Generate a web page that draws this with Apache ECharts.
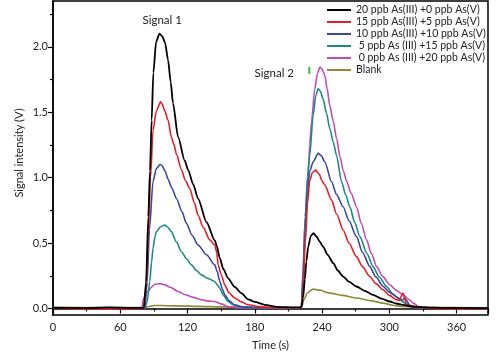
<!DOCTYPE html>
<html><head><meta charset="utf-8">
<script src="https://cdn.jsdelivr.net/npm/echarts@6/dist/echarts.min.js"></script>
<style>html,body{margin:0;padding:0;background:#fff}#c{width:500px;height:363px}</style>
</head><body><div id="c"></div><script>
const names = ['20 ppb As(III) +0 ppb As(V)','15 ppb As(III) +5 ppb As(V)','10 ppb As(III) +10 ppb As(V)',' 5 ppb As (III) +15 ppb As(V)',' 0 ppb As (III) +20 ppb As(V)','Blank'];
const colors = ['#000000','#e3202a','#3a48a0','#1d8a85','#c34cb6','#8c8a3c'];
const yTicks = [0,0.5,1,1.5,2];
const yMinor = [0.25,0.75,1.25,1.75,2.25];

const black = [[0,0.005],[30,0.003],[50,0.008],[70,0.004],[81,0.005],[83,0.2],[85,0.7],[86.5,1.05],[88,1.44],[89.5,1.80],[92,2.04],[95,2.10],[97.5,2.08],[100,2.03],[102.6,1.90],[105,1.73],[107,1.57],[111.6,1.31],[117.5,1.13],[120.5,1.06],[125,0.95],[129.4,0.84],[136.9,0.66],[144.3,0.52],[146,0.48],[148.8,0.384],[152,0.3],[156.2,0.23],[162,0.165],[168,0.117],[174,0.07],[180,0.05],[189,0.028],[200,0.012],[215,0.008],[221.5,0.008],[223,0.08],[224.6,0.22],[226,0.36],[227.6,0.47],[230,0.555],[232.3,0.575],[235,0.55],[238,0.51],[241,0.47],[245,0.41],[250,0.346],[254,0.29],[258.8,0.244],[264,0.205],[270.7,0.168],[278,0.135],[285.5,0.104],[293,0.075],[300.5,0.053],[306,0.038],[312,0.028],[320,0.015],[330,0.008],[350,0.004],[370,0.003],[388,0.003]];
const red = [[0,0.003],[25,-0.004],[50,-0.005],[70,-0.004],[81,0.0],[83,0.15],[85,0.55],[87,1.0],[89.2,1.36],[92.2,1.51],[96,1.58],[97.5,1.56],[99.7,1.51],[102.6,1.44],[105.6,1.31],[108,1.25],[110.1,1.18],[114.6,1.06],[118,0.98],[122,0.917],[126,0.81],[129.4,0.714],[134,0.62],[139.8,0.524],[144.3,0.485],[146,0.43],[147.3,0.333],[150,0.26],[153.2,0.18],[157,0.12],[162,0.08],[168,0.05],[174,0.028],[185,0.012],[200,0.005],[221.5,0.005],[223,0.15],[225,0.5],[227,0.8],[229,0.98],[231.5,1.04],[234.4,1.057],[236,1.04],[238,1.02],[239.5,0.98],[242.5,0.943],[248.4,0.83],[253,0.72],[258.8,0.60],[264,0.5],[270.7,0.396],[276,0.32],[282.6,0.244],[288,0.19],[294.5,0.143],[300,0.1],[306.4,0.066],[309,0.06],[311,0.1],[312.3,0.117],[313.5,0.08],[315.4,0.028],[324,0.01],[340,0.0],[355,-0.004],[370,-0.003],[388,-0.002]];
const blue = [[0,0.006],[30,0.004],[60,0.002],[82,0.004],[84,0.2],[86,0.6],[89.2,0.97],[92.2,1.07],[95.5,1.10],[97,1.095],[100,1.05],[102.6,0.99],[106,0.92],[110.1,0.84],[115,0.74],[119,0.65],[124,0.56],[129.4,0.485],[136.9,0.41],[144.3,0.333],[146.5,0.28],[148.8,0.206],[151,0.15],[153.2,0.104],[157,0.06],[162,0.028],[170,0.01],[190,0.005],[221.5,0.005],[223,0.2],[225,0.6],[227,0.9],[229,1.05],[232,1.12],[236.5,1.185],[239,1.17],[242.5,1.12],[248.4,0.968],[253,0.87],[258.8,0.777],[264,0.67],[270.7,0.549],[276,0.43],[282.6,0.32],[288,0.24],[294.5,0.168],[300,0.125],[306.4,0.09],[310,0.07],[312,0.065],[313.8,0.08],[315.5,0.06],[318,0.025],[325,0.01],[340,0.003],[388,0.002]];
const teal = [[0,0.004],[40,0.003],[82,0.004],[84,0.05],[86.3,0.206],[88,0.36],[89.2,0.46],[91,0.55],[92.2,0.587],[96,0.625],[99.7,0.638],[102,0.625],[105.6,0.587],[110,0.51],[114.6,0.434],[119,0.38],[123.5,0.333],[128,0.29],[132.4,0.257],[138,0.23],[144.3,0.206],[146.5,0.18],[148.8,0.155],[152,0.1],[156.2,0.053],[160,0.03],[165,0.015],[180,0.005],[221.5,0.005],[223,0.25],[225,0.7],[227,1.0],[229,1.17],[232,1.476],[234.5,1.63],[236.5,1.68],[238.5,1.66],[241,1.60],[244,1.49],[246.9,1.375],[250,1.27],[252.9,1.17],[257.4,0.968],[261,0.87],[264.8,0.777],[269,0.66],[273.7,0.549],[280,0.42],[285.5,0.32],[291,0.24],[297.5,0.168],[303,0.11],[309.4,0.066],[312,0.05],[315,0.035],[320,0.015],[330,0.005],[388,0.002]];
const magenta = [[0,0.005],[40,0.002],[79,0.004],[81,0.08],[83,0.12],[84.8,0.13],[88,0.165],[91,0.185],[95.2,0.19],[100,0.18],[105,0.16],[111.6,0.13],[118,0.105],[125,0.085],[132.4,0.066],[138,0.058],[144.3,0.053],[150,0.035],[156.2,0.015],[165,0.005],[200,0.003],[221.5,0.004],[223,0.3],[225,0.7],[227.6,1.044],[229,1.25],[230.6,1.425],[233.5,1.68],[236,1.8],[238,1.845],[240,1.83],[242.5,1.78],[244.5,1.68],[246.9,1.55],[250,1.43],[252.9,1.30],[256,1.16],[259,1.05],[262,0.97],[266,0.88],[270.7,0.777],[275,0.65],[279.7,0.524],[284,0.42],[288.6,0.32],[294,0.245],[300.5,0.18],[306,0.14],[312.3,0.104],[317,0.07],[321.3,0.041],[327,0.01],[340,0.003],[388,0.003]];
const blank = [[0,0.008],[40,0.006],[82,0.007],[85,0.015],[90,0.023],[100,0.022],[120,0.018],[140,0.014],[160,0.01],[190,0.006],[221.5,0.006],[224,0.07],[227,0.12],[232,0.148],[238,0.14],[246.9,0.117],[258,0.1],[270.7,0.08],[283,0.06],[294.5,0.041],[303,0.025],[312,0.015],[325,0.008],[388,0.005]];
const seriesData = [black, red, blue, teal, magenta, blank];

const FONT = 'Lato';
const chart = echarts.init(document.getElementById('c'), null, {renderer:'canvas'});
const series = [];
for (let i = seriesData.length - 1; i >= 0; i--) {
  const s = {
    name: names[i], type: 'line', data: seriesData[i], yAxisIndex: 0,
    symbol: 'none', showSymbol: false, smooth: 0.25, smoothMonotone: 'x',
    lineStyle: {color: colors[i], width: i === 0 ? 1.8 : 1.6},
    itemStyle: {color: colors[i]}, animation: false
  };
  if (i === 0) {
    s.markPoint = {
      symbol: 'rect', symbolSize: 1, itemStyle: {color: 'rgba(0,0,0,0)'},
      label: {show: true, position: 'inside', color: '#222', fontSize: 11.5, fontFamily: FONT},
      data: [
        {coord: [97.4, 2.20], value: 'Signal 1', label: {formatter: 'Signal 1'}},
        {coord: [197.4, 1.80], value: 'Signal 2', label: {formatter: 'Signal 2'}}
      ]
    };
  }
  if (i === 3) {
    s.markPoint = {
      symbol: 'rect', symbolSize: [2, 7], itemStyle: {color: '#33bb44'},
      label: {show: false},
      data: [{coord: [228.6, 1.82]}]
    };
  }
  series.push(s);
}

chart.setOption({
  animation: false,
  backgroundColor: '#fff',
  grid: {left: 53, right: 12, top: 1, bottom: 48, show: true, borderColor: '#000', borderWidth: 1.5, backgroundColor: 'transparent'},
  legend: {
    data: names, orient: 'vertical', left: 327, top: 4, padding: 0,
    itemWidth: 24, itemHeight: 2, itemGap: 0, icon: 'rect',
    textStyle: {fontSize: 10.5, fontFamily: FONT, color: '#222', lineHeight: 12}
  },
  xAxis: {
    type: 'value', min: 0, max: 388, interval: 60,
    name: 'Time (s)', nameLocation: 'middle', nameGap: 25,
    nameTextStyle: {fontSize: 11, fontFamily: FONT, color: '#222'},
    axisLine: {show: true, lineStyle: {color: '#000', width: 1.5}},
    axisTick: {show: true, length: 5, lineStyle: {color: '#000', width: 1.2}},
    minorTick: {show: true, splitNumber: 2, length: 3, lineStyle: {color: '#000', width: 1.2}},
    axisLabel: {fontSize: 11, fontFamily: FONT, color: '#222', margin: 7, showMaxLabel: false},
    splitLine: {show: false}
  },
  yAxis: [{
    type: 'value', min: -0.05, max: 2.35,
    name: 'Signal intensity (V)', nameLocation: 'middle', nameGap: 28, nameMoveOverlap: false,
    nameTextStyle: {fontSize: 11, fontFamily: FONT, color: '#222', padding: [0, 0, 0, 10]},
    axisLine: {show: true, lineStyle: {color: '#000', width: 1.5}},
    axisTick: {show: true, length: 5, customValues: yTicks, lineStyle: {color: '#000', width: 1.2}},
    axisLabel: {fontSize: 11, fontFamily: FONT, color: '#222', margin: 5, customValues: yTicks, formatter: v => v.toFixed(1)},
    splitLine: {show: false}
  }, {
    type: 'value', min: -0.05, max: 2.35, position: 'left',
    axisLine: {show: false},
    axisTick: {show: true, length: 3, customValues: yMinor, lineStyle: {color: '#000', width: 1.2}},
    axisLabel: {show: false},
    splitLine: {show: false}
  }],
  series: series
});
</script></body></html>
